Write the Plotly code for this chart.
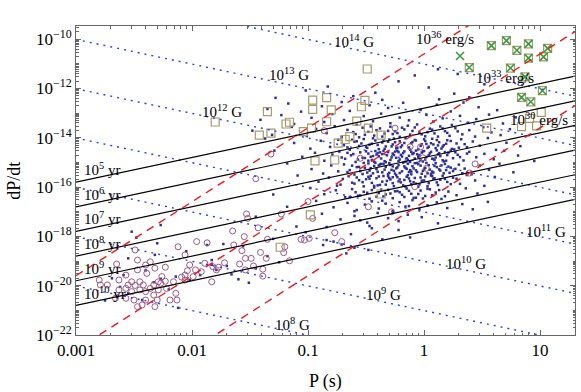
import plotly.graph_objects as go
import numpy as np

# ---------------- reference lines ----------------
B_fields = [1e8, 1e9, 1e10, 1e11, 1e12, 1e13, 1e14]          # G
ages_yr = [1e5, 1e6, 1e7, 1e8, 1e9, 1e10]                     # yr
edots = [1e30, 1e33, 1e36]                                    # erg/s

# ---------------- data (log10 P [s], log10 Pdot) ----------------
normal_pts = [
    (0.12,-11.22),(0.29,-11.41),(-0.08,-11.47),
    (-1.28,-12.38),(-1.02,-12.08),(-0.83,-11.92),(-0.61,-12.31),(-0.42,-12.17),(-0.22,-11.71),(0.04,-11.96),(0.13,-12.44),(0.26,-12.21),(0.39,-12.36),(0.52,-11.83),(-0.36,-12.46),
    (-1.35,-12.83),(-1.17,-12.61),(-1.06,-12.94),(-0.88,-12.72),(-0.71,-12.55),(-0.64,-12.91),(-0.47,-12.68),(-0.31,-12.79),(-0.18,-12.58),(-0.03,-12.87),(0.11,-12.66),(0.23,-12.93),(0.34,-12.57),(0.47,-12.76),(0.63,-12.88),
    (-1.41,-13.27),(-1.23,-13.08),(-1.12,-13.44),(-0.97,-13.19),(-0.86,-13.36),(-0.79,-13.04),(-0.69,-13.28),(-0.58,-13.47),(-0.52,-13.12),(-0.44,-13.33),(-0.37,-13.02),(-0.29,-13.41),(-0.21,-13.18),(-0.13,-13.29),(-0.06,-13.46),(0.02,-13.07),(0.08,-13.34),(0.16,-13.21),(0.24,-13.48),(0.31,-13.11),(0.38,-13.39),(0.45,-13.24),(0.56,-13.06),(0.68,-13.42),(0.79,-13.17),
    (-1.48,-13.71),(-1.31,-13.88),(-1.14,-13.56),(-1.01,-13.93),(-0.93,-13.64),(-0.84,-13.81),(-0.77,-13.53),(-0.71,-13.97),(-0.66,-13.68),(-0.59,-13.85),(-0.53,-13.59),(-0.48,-13.76),(-0.43,-13.91),(-0.38,-13.62),(-0.34,-13.83),(-0.29,-13.55),(-0.25,-13.74),(-0.21,-13.96),(-0.17,-13.66),(-0.12,-13.87),(-0.08,-13.58),(-0.04,-13.79),(0.01,-13.94),(0.05,-13.63),(0.09,-13.82),(0.14,-13.54),(0.18,-13.73),(0.22,-13.92),(0.27,-13.61),(0.33,-13.86),(0.39,-13.69),(0.44,-13.95),(0.51,-13.57),(0.58,-13.78),(0.66,-13.89),(0.74,-13.65),(-0.56,-13.98),(-0.31,-13.72),(-0.14,-13.51),(0.03,-13.77),
    (-1.37,-14.03),(-1.12,-14.21),(-0.98,-14.44),(-0.89,-14.12),(-0.81,-14.37),(-0.74,-14.08),(-0.69,-14.29),(-0.64,-14.48),(-0.60,-14.16),(-0.56,-14.33),(-0.52,-14.05),(-0.49,-14.41),(-0.45,-14.24),(-0.42,-14.11),(-0.39,-14.46),(-0.36,-14.19),(-0.33,-14.35),(-0.30,-14.07),(-0.27,-14.27),(-0.24,-14.43),(-0.21,-14.14),(-0.19,-14.31),(-0.16,-14.02),(-0.13,-14.39),(-0.11,-14.22),(-0.08,-14.09),(-0.05,-14.47),(-0.02,-14.26),(0.01,-14.13),(0.04,-14.36),(0.07,-14.04),(0.10,-14.42),(0.13,-14.18),(0.17,-14.30),(0.20,-14.10),(0.24,-14.45),(0.28,-14.23),(0.32,-14.06),(0.37,-14.38),(0.42,-14.15),(0.48,-14.32),(0.55,-14.01),(0.62,-14.49),(0.71,-14.20),(0.83,-14.34),(-0.47,-14.28),(-0.35,-14.12),(-0.23,-14.40),(-0.10,-14.17),(0.02,-14.25),(0.15,-14.44),(-0.62,-14.08),(-0.28,-14.35),(0.06,-14.22),(0.26,-14.47),
    (-1.29,-14.52),(-1.05,-14.77),(-0.94,-14.61),(-0.86,-14.93),(-0.79,-14.68),(-0.73,-14.56),(-0.68,-14.85),(-0.63,-14.71),(-0.59,-14.98),(-0.55,-14.59),(-0.51,-14.82),(-0.48,-14.64),(-0.45,-14.90),(-0.42,-14.54),(-0.39,-14.75),(-0.36,-14.66),(-0.34,-14.95),(-0.31,-14.58),(-0.28,-14.80),(-0.26,-14.70),(-0.23,-14.53),(-0.21,-14.88),(-0.18,-14.62),(-0.16,-14.97),(-0.13,-14.73),(-0.11,-14.57),(-0.08,-14.84),(-0.06,-14.67),(-0.03,-14.91),(-0.01,-14.55),(0.02,-14.78),(0.05,-14.63),(0.08,-14.86),(0.11,-14.51),(0.14,-14.74),(0.17,-14.96),(0.21,-14.60),(0.25,-14.83),(0.29,-14.69),(0.34,-14.92),(0.39,-14.57),(0.45,-14.79),(0.52,-14.65),(0.60,-14.87),(0.69,-14.53),(0.81,-14.72),(0.95,-14.94),(-0.66,-14.61),(-0.53,-14.81),(-0.41,-14.68),(-0.33,-14.99),(-0.25,-14.56),(-0.19,-14.76),(-0.14,-14.89),(-0.09,-14.62),(-0.04,-14.70),(0.00,-14.54),(0.07,-14.85),(0.12,-14.67),(0.19,-14.93),(0.27,-14.59),(-0.71,-14.80),(-0.44,-14.74),(-0.22,-14.58),(0.09,-14.90),
    (-1.18,-15.04),(-0.97,-15.27),(-0.87,-15.45),(-0.80,-15.12),(-0.74,-15.36),(-0.69,-15.08),(-0.64,-15.31),(-0.60,-15.49),(-0.56,-15.18),(-0.52,-15.02),(-0.49,-15.41),(-0.46,-15.23),(-0.43,-15.14),(-0.40,-15.38),(-0.37,-15.06),(-0.34,-15.29),(-0.31,-15.47),(-0.29,-15.10),(-0.26,-15.34),(-0.23,-15.20),(-0.21,-15.43),(-0.18,-15.01),(-0.15,-15.26),(-0.13,-15.39),(-0.10,-15.15),(-0.07,-15.32),(-0.05,-15.07),(-0.02,-15.46),(0.01,-15.22),(0.04,-15.11),(0.07,-15.37),(0.10,-15.03),(0.13,-15.28),(0.17,-15.44),(0.21,-15.17),(0.25,-15.35),(0.30,-15.09),(0.35,-15.25),(0.41,-15.48),(0.48,-15.13),(0.56,-15.30),(0.65,-15.05),(0.77,-15.40),(-0.58,-15.19),(-0.47,-15.33),(-0.38,-15.08),(-0.30,-15.42),(-0.24,-15.24),(-0.17,-15.16),(-0.11,-15.37),(-0.06,-15.02),(0.00,-15.28),(0.06,-15.46),(0.15,-15.12),(0.23,-15.21),(-0.66,-15.39),(-0.35,-15.06),(-0.12,-15.31),(0.09,-15.14),(0.33,-15.44),
    (-1.09,-15.53),(-0.91,-15.78),(-0.82,-15.61),(-0.75,-15.94),(-0.70,-15.67),(-0.65,-15.56),(-0.60,-15.86),(-0.56,-15.72),(-0.52,-15.97),(-0.48,-15.58),(-0.45,-15.83),(-0.41,-15.64),(-0.38,-15.91),(-0.35,-15.55),(-0.32,-15.75),(-0.29,-15.69),(-0.26,-15.96),(-0.23,-15.60),(-0.20,-15.81),(-0.17,-15.71),(-0.14,-15.52),(-0.11,-15.88),(-0.08,-15.63),(-0.05,-15.99),(-0.02,-15.74),(0.01,-15.57),(0.04,-15.84),(0.08,-15.66),(0.12,-15.92),(0.16,-15.54),(0.20,-15.79),(0.25,-15.62),(0.31,-15.87),(0.37,-15.51),(0.44,-15.73),(0.52,-15.95),(0.61,-15.59),(-0.62,-15.82),(-0.50,-15.68),(-0.40,-15.93),(-0.31,-15.56),(-0.22,-15.77),(-0.13,-15.65),(-0.04,-15.89),(0.06,-15.53),(0.14,-15.70),(-0.72,-15.90),(-0.27,-15.60),(-0.09,-15.80),(0.28,-15.66),
    (-0.98,-16.04),(-0.86,-16.29),(-0.76,-16.13),(-0.68,-16.41),(-0.62,-16.08),(-0.57,-16.35),(-0.52,-16.19),(-0.47,-16.47),(-0.43,-16.02),(-0.39,-16.24),(-0.35,-16.38),(-0.31,-16.11),(-0.27,-16.45),(-0.23,-16.16),(-0.19,-16.31),(-0.15,-16.06),(-0.11,-16.27),(-0.07,-16.43),(-0.03,-16.14),(0.01,-16.36),(0.05,-16.09),(0.10,-16.22),(0.15,-16.48),(0.21,-16.18),(0.28,-16.33),(0.36,-16.05),(0.46,-16.26),(-0.64,-16.40),(-0.45,-16.12),(-0.33,-16.30),(-0.21,-16.21),(-0.09,-16.44),(0.03,-16.07),(-0.55,-16.34),(-0.25,-16.17),
    (-0.93,-16.56),(-0.78,-16.82),(-0.66,-16.64),(-0.58,-16.93),(-0.51,-16.71),(-0.45,-16.58),(-0.39,-16.87),(-0.33,-16.67),(-0.27,-16.96),(-0.21,-16.61),(-0.16,-16.79),(-0.10,-16.53),(-0.04,-16.90),(0.03,-16.74),(0.11,-16.62),(0.20,-16.85),(0.33,-16.69),(-0.60,-16.98),(-0.36,-16.55),(-0.13,-16.77),(0.42,-16.90),(0.55,-16.60),
    (-0.88,-17.08),(-0.72,-17.31),(-0.60,-17.17),(-0.49,-17.44),(-0.40,-17.05),(-0.31,-17.26),(-0.22,-17.38),(-0.14,-17.12),(-0.02,-17.22),(0.12,-17.47),(-0.55,-17.35),(-0.27,-17.02),
    (-0.84,-17.62),(-0.63,-17.91),(-0.47,-17.58),(-0.36,-18.12),(-0.22,-17.74),(-0.71,-18.33),(-0.12,-18.04),(-1.02,-17.83),
    (-0.87,-18.35),(-0.84,-18.15),(-0.78,-18.21),(-0.67,-18.69),(-0.60,-18.46),(-0.45,-17.67),(-0.48,-18.55),(-1.10,-17.60),(-1.30,-18.10),(-1.18,-16.80),(-1.30,-16.30),(-1.45,-17.20),
    (-2.27,-17.54),(-2.52,-17.81),(-2.30,-18.28),(-2.55,-18.89),(-2.32,-18.75),(-2.69,-19.70),(-2.59,-19.57),(-2.27,-19.72),(-2.14,-19.63),(-2.55,-20.31),(-2.33,-19.86),(-2.43,-20.58),(-2.02,-19.77),(-1.93,-19.57),(-1.79,-19.36),(-1.83,-18.96),(-1.87,-18.35),(-1.73,-18.31),(-1.70,-19.20),(-1.83,-19.15),(-1.66,-19.54),(-1.60,-19.74),(-1.51,-19.88),(-1.45,-19.30),(-1.35,-18.80),(-2.62,-20.05),(-2.40,-19.38),(-2.20,-20.15),(-2.05,-18.60),(-2.48,-18.05),(-1.56,-18.40),(-1.25,-19.05),(-2.75,-20.60),(-2.12,-20.90),
]

normal_core_pts = [
    (-0.61,-13.77),(-0.51,-13.88),(-0.41,-13.69),(-0.36,-13.95),(-0.27,-13.85),(-0.19,-13.59),(-0.10,-13.72),(-0.02,-13.86),(0.07,-13.67),(0.12,-13.95),(0.20,-13.80),(0.29,-13.74),(-0.46,-13.54),(-0.23,-13.81),(0.16,-13.62),
    (-0.58,-14.14),(-0.50,-14.37),(-0.44,-14.02),(-0.40,-14.29),(-0.34,-14.45),(-0.31,-14.16),(-0.26,-14.03),(-0.20,-14.38),(-0.17,-14.21),(-0.12,-14.48),(-0.07,-14.11),(-0.03,-14.33),(0.00,-14.06),(0.03,-14.41),(0.08,-14.27),(0.11,-14.09),(0.16,-14.36),(0.19,-14.24),(0.23,-14.13),(0.30,-14.40),(0.35,-14.26),(-0.66,-14.39),(-0.54,-14.23),(-0.25,-14.18),(0.12,-14.31),
    (-0.61,-14.66),(-0.57,-14.88),(-0.50,-14.55),(-0.46,-14.77),(-0.43,-14.97),(-0.40,-14.62),(-0.37,-14.84),(-0.35,-14.53),(-0.32,-14.71),(-0.29,-14.90),(-0.27,-14.64),(-0.24,-14.81),(-0.20,-14.69),(-0.17,-14.55),(-0.15,-14.83),(-0.12,-14.98),(-0.10,-14.66),(-0.07,-14.52),(-0.05,-14.77),(-0.02,-14.60),(0.01,-14.88),(0.04,-14.71),(0.06,-14.57),(0.10,-14.80),(0.13,-14.62),(0.16,-14.91),(0.20,-14.70),(0.23,-14.52),(0.31,-14.78),(0.37,-14.64),(-0.48,-14.93),(-0.38,-14.59),(-0.22,-14.95),(-0.01,-14.96),(0.18,-14.58),
    (-0.62,-15.13),(-0.55,-15.35),(-0.51,-15.22),(-0.48,-15.04),(-0.44,-15.44),(-0.41,-15.27),(-0.39,-15.12),(-0.36,-15.40),(-0.33,-15.18),(-0.30,-15.03),(-0.28,-15.30),(-0.25,-15.45),(-0.22,-15.11),(-0.19,-15.36),(-0.16,-15.22),(-0.14,-15.05),(-0.11,-15.48),(-0.09,-15.24),(-0.06,-15.39),(-0.03,-15.13),(-0.01,-15.34),(0.02,-15.02),(0.05,-15.29),(0.08,-15.41),(0.11,-15.19),(0.14,-15.33),(0.18,-15.06),(0.22,-15.42),(0.27,-15.26),(-0.53,-15.47),(-0.42,-15.01),(-0.27,-15.16),(-0.08,-15.03),(0.03,-15.44),(0.19,-15.31),
    (-0.58,-15.61),(-0.53,-15.80),(-0.47,-15.66),(-0.43,-15.95),(-0.39,-15.57),(-0.36,-15.78),(-0.33,-15.90),(-0.30,-15.63),(-0.27,-15.84),(-0.24,-15.52),(-0.21,-15.69),(-0.18,-15.93),(-0.15,-15.58),(-0.12,-15.76),(-0.07,-15.86),(-0.03,-15.61),(0.00,-15.73),(0.03,-15.97),(0.07,-15.55),(0.11,-15.81),(0.18,-15.67),(0.23,-15.88),(-0.46,-15.54),(-0.16,-15.98),(0.09,-15.64),
    (-0.49,-16.23),(-0.41,-16.39),(-0.37,-16.10),(-0.29,-16.26),(-0.17,-16.40),(-0.13,-16.15),(-0.05,-16.28),(0.07,-16.33),(0.13,-16.12),(-0.59,-16.21),(-0.01,-16.46),(0.18,-16.37),
]

binary_pts = [
    (-1.96,-18.21),(-1.87,-18.26),(-2.12,-18.42),(-2.49,-18.55),(-2.47,-18.96),(-2.06,-18.75),(-2.40,-19.16),(-2.36,-19.03),(-2.32,-19.29),(-2.47,-19.36),(-2.02,-19.16),(-1.92,-19.43),(-1.89,-19.09),(-1.82,-19.23),(-1.77,-19.25),(-2.57,-19.57),(-2.39,-19.50),(-2.26,-19.63),(-1.99,-19.63),(-2.09,-19.65),(-2.06,-19.77),(-2.80,-19.77),(-2.63,-19.77),(-2.52,-19.84),(-2.45,-19.84),(-2.29,-19.84),(-2.23,-19.82),(-1.83,-19.84),(-2.73,-19.97),(-2.55,-19.97),(-2.49,-19.99),(-2.42,-19.97),(-2.33,-19.97),(-2.27,-19.90),(-2.16,-19.84),(-2.36,-20.11),(-2.45,-20.17),(-2.40,-20.24),(-2.52,-20.24),(-2.57,-20.11),(-2.63,-20.17),(-2.29,-20.17),(-2.22,-20.11),(-2.33,-20.38),(-2.14,-20.31),(-2.66,-20.51),(-2.57,-20.51),(-2.50,-20.58),(-2.40,-20.58),(-2.30,-20.58),(-2.19,-20.58),(-2.13,-20.58),(-2.43,-20.78),(-2.32,-20.85),(-2.47,-20.85),(-2.06,-19.57),(-2.79,-19.97),(-2.65,-19.12),(-2.23,-19.25),(-2.04,-19.39),
    (-1.53,-17.09),(-1.52,-17.27),(-1.23,-17.09),(-1.00,-16.59),(-0.96,-17.27),(-1.65,-17.78),(-1.43,-17.65),(-1.55,-18.01),(-1.35,-18.12),(-1.64,-18.35),(-1.57,-18.58),(-1.41,-18.65),(-1.06,-18.12),(-1.03,-18.15),(-0.99,-18.08),(-0.77,-17.85),(-0.71,-18.21),(-1.20,-18.42),(-1.21,-18.66),(-1.16,-18.99),(-1.36,-18.89),(-1.49,-18.89),(-1.54,-18.89),(-1.72,-19.07),(-1.47,-19.20),(-1.39,-19.33),(-1.59,-19.12),(-1.54,-19.36),(-1.79,-19.36),(-1.97,-19.36),(-1.39,-19.61),
    (-0.48,-16.80),(-0.28,-17.00),(-0.08,-15.98),(-0.25,-13.61),(-0.12,-14.36),(-0.03,-14.37),(-0.01,-14.81),(0.02,-15.24),(0.44,-15.06),(0.39,-15.43),(-0.55,-14.83),(-1.32,-14.66),(-1.45,-15.66),(-0.86,-13.71),
]

square_pts = [
    (-0.49,-11.21),(-0.96,-12.47),(-0.84,-12.37),(-0.96,-12.85),(-0.80,-12.87),(-0.54,-12.74),(-0.51,-12.48),(-1.35,-12.94),(-1.80,-13.36),(-1.19,-13.44),(-1.16,-13.37),(-1.42,-13.89),(-1.32,-13.81),(-0.97,-13.61),(-1.04,-13.75),(-0.84,-13.35),(-0.58,-13.32),(-0.48,-13.61),(-0.64,-13.95),(-0.74,-14.22),(-0.68,-14.07),(-0.94,-14.94),(-0.77,-14.90),(-0.37,-16.28),(-0.37,-13.89),(0.54,-13.61),(-0.98,-17.13),(-1.24,-18.44),(0.84,-13.55),(0.91,-13.21),(1.01,-12.97),(0.97,-13.52),
]

magnetar_pts = [
    (0.58,-10.26),(0.71,-10.06),(0.80,-10.45),(0.90,-10.19),(0.90,-10.77),(1.065,-10.37),(1.03,-10.72),(0.31,-10.68),(0.39,-11.15),(0.745,-11.17),(0.87,-11.53),(1.02,-12.09),(0.84,-12.36),(0.92,-12.54),
]
magnetar_boxed = [1,1,1,1,1,1,1,0,1,1,1,1,1,1]

# label positions (log10 P, log10 Pdot)
B_labels = [("10<sup>8</sup> G",-1.13,-21.55),("10<sup>9</sup> G",-0.35,-20.34),("10<sup>10</sup> G",0.36,-19.08),
            ("10<sup>11</sup> G",1.05,-17.78),("10<sup>12</sup> G",-1.74,-12.91),("10<sup>13</sup> G",-1.16,-11.41),
            ("10<sup>14</sup> G",-0.60,-10.07)]
age_labels = [("10<sup>5</sup> yr",-15.27),("10<sup>6</sup> yr",-16.28),("10<sup>7</sup> yr",-17.25),
              ("10<sup>8</sup> yr",-18.27),("10<sup>9</sup> yr",-19.28),("10<sup>10</sup> yr",-20.30)]
edot_labels = [("10<sup>36</sup> erg/s",0.18,-9.95),("10<sup>33</sup> erg/s",0.70,-11.53),("10<sup>30</sup> erg/s",0.99,-13.24)]

x_ticks = [0.001, 0.01, 0.1, 1, 10]
x_ticktext = ["0.001", "0.01", "0.1", "1", "10"]
y_exps = [-22, -20, -18, -16, -14, -12, -10]

P_RANGE = (1e-3, 20.0)
YEAR = 3.156e7
I_NS = 1e45

fig = go.Figure()

def unlog(pts):
    return [10**p for p, _ in pts], [10**q for _, q in pts]

# scatter points
nx, ny = unlog(normal_pts + normal_core_pts)
fig.add_trace(go.Scatter(x=nx, y=ny, mode="markers",
                         marker=dict(symbol="square", size=2.5, color="#2e2e96", line=dict(width=0))))
bx, by = unlog(binary_pts)
fig.add_trace(go.Scatter(x=bx, y=by, mode="markers",
                         marker=dict(symbol="circle-open", size=6, color="#9a5a82", line=dict(width=1))))
sx, sy = unlog(square_pts)
bpts = [p for p, b in zip(magnetar_pts, magnetar_boxed) if b]
mbx, mby = unlog(bpts)
fig.add_trace(go.Scatter(x=sx + mbx, y=sy + mby, mode="markers",
                         marker=dict(symbol="square-open", size=8, color="#a89a6c", line=dict(width=1.2))))
mx, my = unlog(magnetar_pts)
fig.add_trace(go.Scatter(x=mx, y=my, mode="markers",
                         marker=dict(symbol="x-thin-open", size=8, color="#3c9a44", line=dict(width=1.6))))

P_ends = np.array(P_RANGE)
# B-field lines: B = 3.2e19 sqrt(P Pdot)
for B in B_fields:
    fig.add_trace(go.Scatter(x=P_ends, y=(B / 3.2e19) ** 2 / P_ends, mode="lines",
                             line=dict(color="#2b3cf0", width=1.4, dash="2px,5px")))
# characteristic age lines: tau = P / (2 Pdot)
for t in ages_yr:
    fig.add_trace(go.Scatter(x=P_ends, y=P_ends / (2 * t * YEAR), mode="lines",
                             line=dict(color="black", width=1.2)))
# spin-down luminosity: Edot = 4 pi^2 I Pdot / P^3
for E in edots:
    fig.add_trace(go.Scatter(x=P_ends, y=E * P_ends ** 3 / (4 * np.pi ** 2 * I_NS), mode="lines",
                             line=dict(color="#f01818", width=1.4, dash="8px,6px")))

FONT = "Liberation Serif, Times New Roman, serif"
ann = []
for txt, lp, lq in B_labels:
    ann.append(dict(x=lp, y=lq, text=txt, xref="x", yref="y", showarrow=False,
                    font=dict(family=FONT, size=15, color="black")))
for txt, lq in age_labels:
    ann.append(dict(x=-2.945, y=lq, text=txt, xref="x", yref="y", showarrow=False, xanchor="left",
                    font=dict(family=FONT, size=15, color="black")))
for txt, lp, lq in edot_labels:
    ann.append(dict(x=lp, y=lq, text=txt, xref="x", yref="y", showarrow=False,
                    font=dict(family=FONT, size=15, color="black")))
# axis titles (paper coords; plot area spans x 75.5..575.5, y 26..335 px)
ann.append(dict(x=0.5, y=-0.149, xref="paper", yref="paper", text="P (s)", showarrow=False,
                font=dict(family=FONT, size=18, color="black"), xanchor="center", yanchor="middle"))
ann.append(dict(x=-0.125, y=0.498, xref="paper", yref="paper", text="dP/dt", showarrow=False, textangle=-90,
                font=dict(family=FONT, size=18, color="black"), xanchor="center", yanchor="middle"))

axis_common = dict(showgrid=False, zeroline=False, showline=True, linecolor="#666666", linewidth=1,
                   mirror="allticks", ticks="inside", ticklen=5, tickcolor="#666666", automargin=False,
                   tickfont=dict(family=FONT, size=17, color="black"))

fig.update_layout(
    width=581, height=392,
    margin=dict(l=75.5, r=5.5, t=26, b=57, autoexpand=False),
    paper_bgcolor="white", plot_bgcolor="white",
    showlegend=False,
    annotations=ann,
    xaxis=dict(type="log", range=[-3, np.log10(20)], tickmode="array", tickvals=x_ticks,
               ticktext=x_ticktext,
               minor=dict(ticks="inside", ticklen=2.5, tickcolor="#666666", dtick="D1"),
               **axis_common),
    yaxis=dict(type="log", range=[-22, -9.465], tickmode="array", tickvals=[10.0 ** e for e in y_exps],
               ticktext=["10<sup>\u2212%d</sup>" % (-e) for e in y_exps],
               minor=dict(ticks="inside", ticklen=2.5, tickcolor="#666666", dtick="D1"),
               **axis_common),
)

# remove the default 8px page margin so the figure fills the window exactly
fig.write_html("out.html", config={"displayModeBar": False},
               post_script="document.body.style.margin='0';document.body.style.overflow='hidden';")
